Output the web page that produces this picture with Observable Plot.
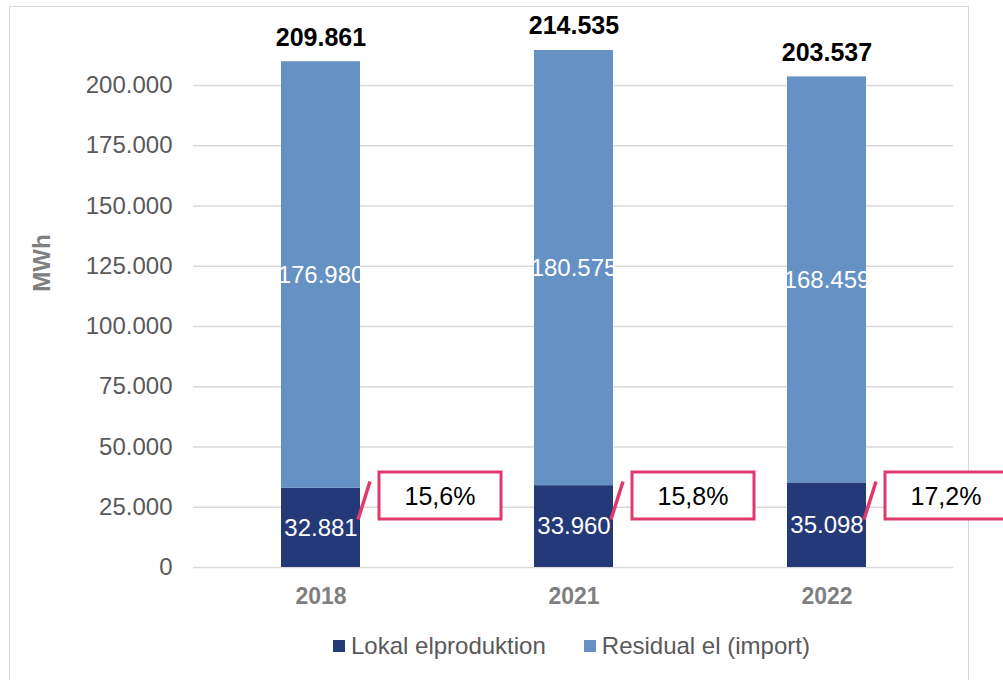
<!DOCTYPE html>
<html>
<head>
<meta charset="utf-8">
<script src="https://cdn.jsdelivr.net/npm/d3@7"></script>
<script src="https://cdn.jsdelivr.net/npm/@observablehq/plot@0.6"></script>
<style>
  html, body { margin: 0; padding: 0; background: #ffffff; overflow: hidden; }
  body { width: 1003px; height: 680px; position: relative; font-family: "Liberation Sans", Arial, sans-serif; }
  #frame { position: absolute; left: 9px; top: 6px; width: 960px; height: 720px; border: 1.5px solid #d9d9d9; box-sizing: border-box; }
  #chart { position: absolute; left: 0; top: 0; }
  #ytitle { position: absolute; left: 42px; top: 263px; transform: translate(-50%, -50%) rotate(-90deg); font-size: 24px; font-weight: bold; color: #7f7f7f; white-space: nowrap; }
  #legend { position: absolute; left: 333px; top: 632px; display: flex; align-items: center; font-size: 24px; color: #595959; white-space: nowrap; }
  #legend .sw { width: 12px; height: 12px; margin-right: 6px; }
  #legend .item { display: flex; align-items: center; margin-right: 38px; }
</style>
</head>
<body>
<div id="frame"></div>
<div id="chart"></div>
<div id="ytitle">MWh</div>
<div id="legend"></div>
<script>
// ---- data ----
const years = ["2018", "2021", "2022"];
const seriesNames = ["Lokal elproduktion", "Residual el (import)"];
const seriesColors = ["#243a78", "#6591c4"];
const lokal = [32881, 33960, 35098];
const residual = [176980, 180575, 168459];
const totals = [209861, 214535, 203537];
const sharePct = ["15,6%", "15,8%", "17,2%"];
const yTicks = [0, 25000, 50000, 75000, 100000, 125000, 150000, 175000, 200000];

const locale = d3.formatLocale({decimal: ",", thousands: ".", grouping: [3], currency: ["", ""]});
const fmt = locale.format(",d");

const rows = [];
years.forEach((y, i) => {
  rows.push({year: y, series: seriesNames[0], value: lokal[i], mid: lokal[i] / 2});
  rows.push({year: y, series: seriesNames[1], value: residual[i], mid: lokal[i] + residual[i] / 2});
});

const pink = "#e2396d";
const boxSymbol = {
  draw(ctx) { ctx.moveTo(-61, -23.5); ctx.lineTo(61, -23.5); ctx.lineTo(61, 23.5); ctx.lineTo(-61, 23.5); ctx.closePath(); }
};
const leaderSymbol = {
  draw(ctx) { ctx.moveTo(-82, 24); ctx.lineTo(-70, -14); }
};

const plot = Plot.plot({
  width: 1003,
  height: 620,
  marginTop: 85,
  marginBottom: 53,
  marginLeft: 193,
  marginRight: 50,
  style: {background: "transparent", overflow: "visible", fontFamily: "'Liberation Sans', Arial, sans-serif"},
  x: {domain: years, paddingInner: 0.688, paddingOuter: 0.344, label: null},
  y: {domain: [0, 200000], label: null},
  color: {domain: seriesNames, range: seriesColors},
  marks: [
    Plot.gridY(yTicks, {stroke: "#d9d9d9", strokeOpacity: 1, strokeWidth: 1.5}),
    Plot.axisY(yTicks, {tickSize: 0, tickPadding: 21, tickFormat: fmt, fontSize: 24, color: "#595959", label: null}),
    Plot.axisX({tickSize: 0, tickPadding: 20, fontSize: 23, fontWeight: "bold", color: "#7f7f7f", label: null}),
    Plot.barY(rows, {x: "year", y: "value", fill: "series"}),
    Plot.text(rows, {x: "year", y: "mid", text: d => fmt(d.value), fill: "white", fontSize: 24}),
    Plot.text(years, {x: d => d, y: (d, i) => totals[i], text: (d, i) => fmt(totals[i]), dy: -24, fontSize: 25, fontWeight: "bold", fill: "black"}),
    Plot.dot(years, {x: d => d, y: 0, symbol: leaderSymbol, r: 3, dx: 119, dy: -72, fill: "none", stroke: pink, strokeWidth: 3.5}),
    Plot.dot(years, {x: d => d, y: 0, symbol: boxSymbol, r: 3, dx: 119, dy: -72, fill: "white", stroke: pink, strokeWidth: 3}),
    Plot.text(years, {x: d => d, y: 0, text: (d, i) => sharePct[i], dx: 119, dy: -71, fontSize: 25, fill: "black"})
  ]
});
document.getElementById("chart").appendChild(plot);

const legend = document.getElementById("legend");
seriesNames.forEach((name, i) => {
  const item = document.createElement("div");
  item.className = "item";
  const sw = document.createElement("div");
  sw.className = "sw";
  sw.style.background = seriesColors[i];
  const label = document.createElement("span");
  label.textContent = name;
  item.appendChild(sw);
  item.appendChild(label);
  legend.appendChild(item);
});
</script>
</body>
</html>
